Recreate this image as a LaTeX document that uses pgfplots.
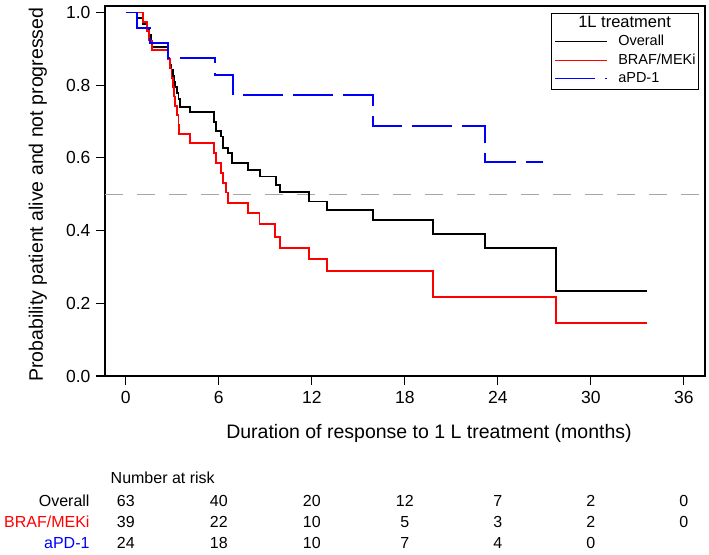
\documentclass[border=0pt]{standalone}
\usepackage{pgfplots}
\pgfplotsset{compat=1.18}
\usepackage{fontspec}
\setmainfont{Liberation Sans}
\definecolor{refgray}{RGB}{165,165,165}
\begin{document}
\begin{tikzpicture}
\useasboundingbox (0pt,0pt) rectangle (709pt,554pt);
\begin{axis}[
  at={(105pt,178pt)}, anchor=south west,
  scale only axis, width=600pt, height=370pt,
  xmin=-1.34, xmax=37.37, ymin=0, ymax=1.018,
  xtick={0,6,12,18,24,30,36},
  ytick={0,0.2,0.4,0.6,0.8,1},
  xtick pos=left, ytick pos=left,
  tick align=outside, major tick length=9pt,
  every tick/.style={black, line width=1.1pt},
  axis line style={line width=1.1pt},
  /pgf/number format/assume math mode=true,
  tick label style={font=\fontsize{17.5}{20}\selectfont},
  yticklabel style={xshift=-2pt, /pgf/number format/.cd, fixed, fixed zerofill, precision=1},
  xticklabel style={yshift=-3pt},
  xlabel={Duration of response to 1 L treatment (months)},
  ylabel={Probability patient alive and not progressed},
  every axis x label/.style={at={(axis description cs:0.54,-0.154)}, anchor=center,
    font=\fontsize{19.5}{22}\selectfont},
  every axis y label/.style={at={(axis description cs:-0.112,0.49)}, anchor=center, rotate=90,
    font=\fontsize{19.5}{22}\selectfont},
  clip=false,
  legend style={at={(axis description cs:0.99,0.982)}, anchor=north east,
    draw=black, line width=0.8pt, font=\fontsize{14.5}{17}\selectfont,
    inner sep=1pt, row sep=0pt,
    nodes={text height=11pt, text depth=3.5pt, inner sep=2pt},
    cells={anchor=west}},
  legend image code/.code={\path (-2pt,0pt) (60pt,0pt);
    \draw[#1, line width=0.9pt] (0pt,0pt) -- (52pt,0pt);},
]
\addlegendimage{empty legend}
\addlegendentry{\hspace*{-40pt}\fontsize{16.5}{19}\selectfont 1L treatment}

\addplot[refgray, line width=1.4pt, dash pattern=on 18pt off 14pt, forget plot]
  coordinates {(-1.34,0.5) (37.37,0.5)};

% Overall
\addplot[black, line width=1.9pt, const plot] coordinates {
(0,1.0) (0.71,0.984) (1.1,0.968) (1.35,0.952) (1.5,0.937) (1.6,0.921) (1.68,0.906)
(2.75,0.873) (2.85,0.857) (2.95,0.841) (3.05,0.825) (3.1,0.810) (3.2,0.794)
(3.3,0.778) (3.4,0.762) (3.5,0.741) (4.15,0.726) (5.70,0.700) (5.80,0.675)
(6.13,0.659) (6.30,0.627) (6.58,0.613) (6.84,0.585) (7.91,0.567) (8.66,0.549)
(9.70,0.526) (9.95,0.506) (11.85,0.480) (12.97,0.457) (15.93,0.429) (19.8,0.391)
(23.2,0.351) (27.74,0.234) (33.6,0.234)};
\addlegendentry{Overall}

% BRAF/MEKi
\addplot[red, line width=1.9pt, const plot] coordinates {
(0,1.0) (1.1,0.974) (1.35,0.949) (1.5,0.923) (1.68,0.897) (2.75,0.872) (2.85,0.846)
(2.95,0.821) (3.05,0.795) (3.1,0.769) (3.2,0.744) (3.3,0.718) (3.4,0.692)
(3.46,0.667) (4.15,0.641) (5.70,0.613) (5.80,0.585) (6.13,0.558) (6.30,0.530)
(6.45,0.505) (6.58,0.477) (7.87,0.448) (8.63,0.418) (9.63,0.383) (9.95,0.353)
(11.85,0.321) (12.97,0.290) (19.8,0.217) (27.74,0.145) (33.6,0.145)};
\addlegendentry{BRAF/MEKi}

% aPD-1
\addplot[blue, line width=1.9pt, const plot, dash pattern=on 40pt off 10pt] coordinates {
(0,1.0) (0.71,0.958) (1.57,0.917) (2.75,0.875) (5.76,0.829) (6.94,0.773)
(15.93,0.688) (23.2,0.589) (26.9,0.589)};
\addlegendentry{aPD-1}

% Number at risk table
\node[anchor=west, font=\fontsize{16}{19}\selectfont] at (axis cs:-1.2,-0.281) {Number at risk};
\begin{scope}[every node/.style={font=\fontsize{16}{19}\selectfont}]
\node[anchor=east] at (axis cs:-2.11,-0.344) {Overall};
\node[anchor=east, text=red] at (axis cs:-2.11,-0.402) {BRAF/MEKi};
\node[anchor=east, text=blue] at (axis cs:-2.11,-0.460) {aPD-1};
\node at (axis cs:0,-0.344) {63};
\node at (axis cs:6,-0.344) {40};
\node at (axis cs:12,-0.344) {20};
\node at (axis cs:18,-0.344) {12};
\node at (axis cs:24,-0.344) {7};
\node at (axis cs:30,-0.344) {2};
\node at (axis cs:36,-0.344) {0};
\node at (axis cs:0,-0.402) {39};
\node at (axis cs:6,-0.402) {22};
\node at (axis cs:12,-0.402) {10};
\node at (axis cs:18,-0.402) {5};
\node at (axis cs:24,-0.402) {3};
\node at (axis cs:30,-0.402) {2};
\node at (axis cs:36,-0.402) {0};
\node at (axis cs:0,-0.460) {24};
\node at (axis cs:6,-0.460) {18};
\node at (axis cs:12,-0.460) {10};
\node at (axis cs:18,-0.460) {7};
\node at (axis cs:24,-0.460) {4};
\node at (axis cs:30,-0.460) {0};
\end{scope}
\end{axis}
\end{tikzpicture}
\end{document}
